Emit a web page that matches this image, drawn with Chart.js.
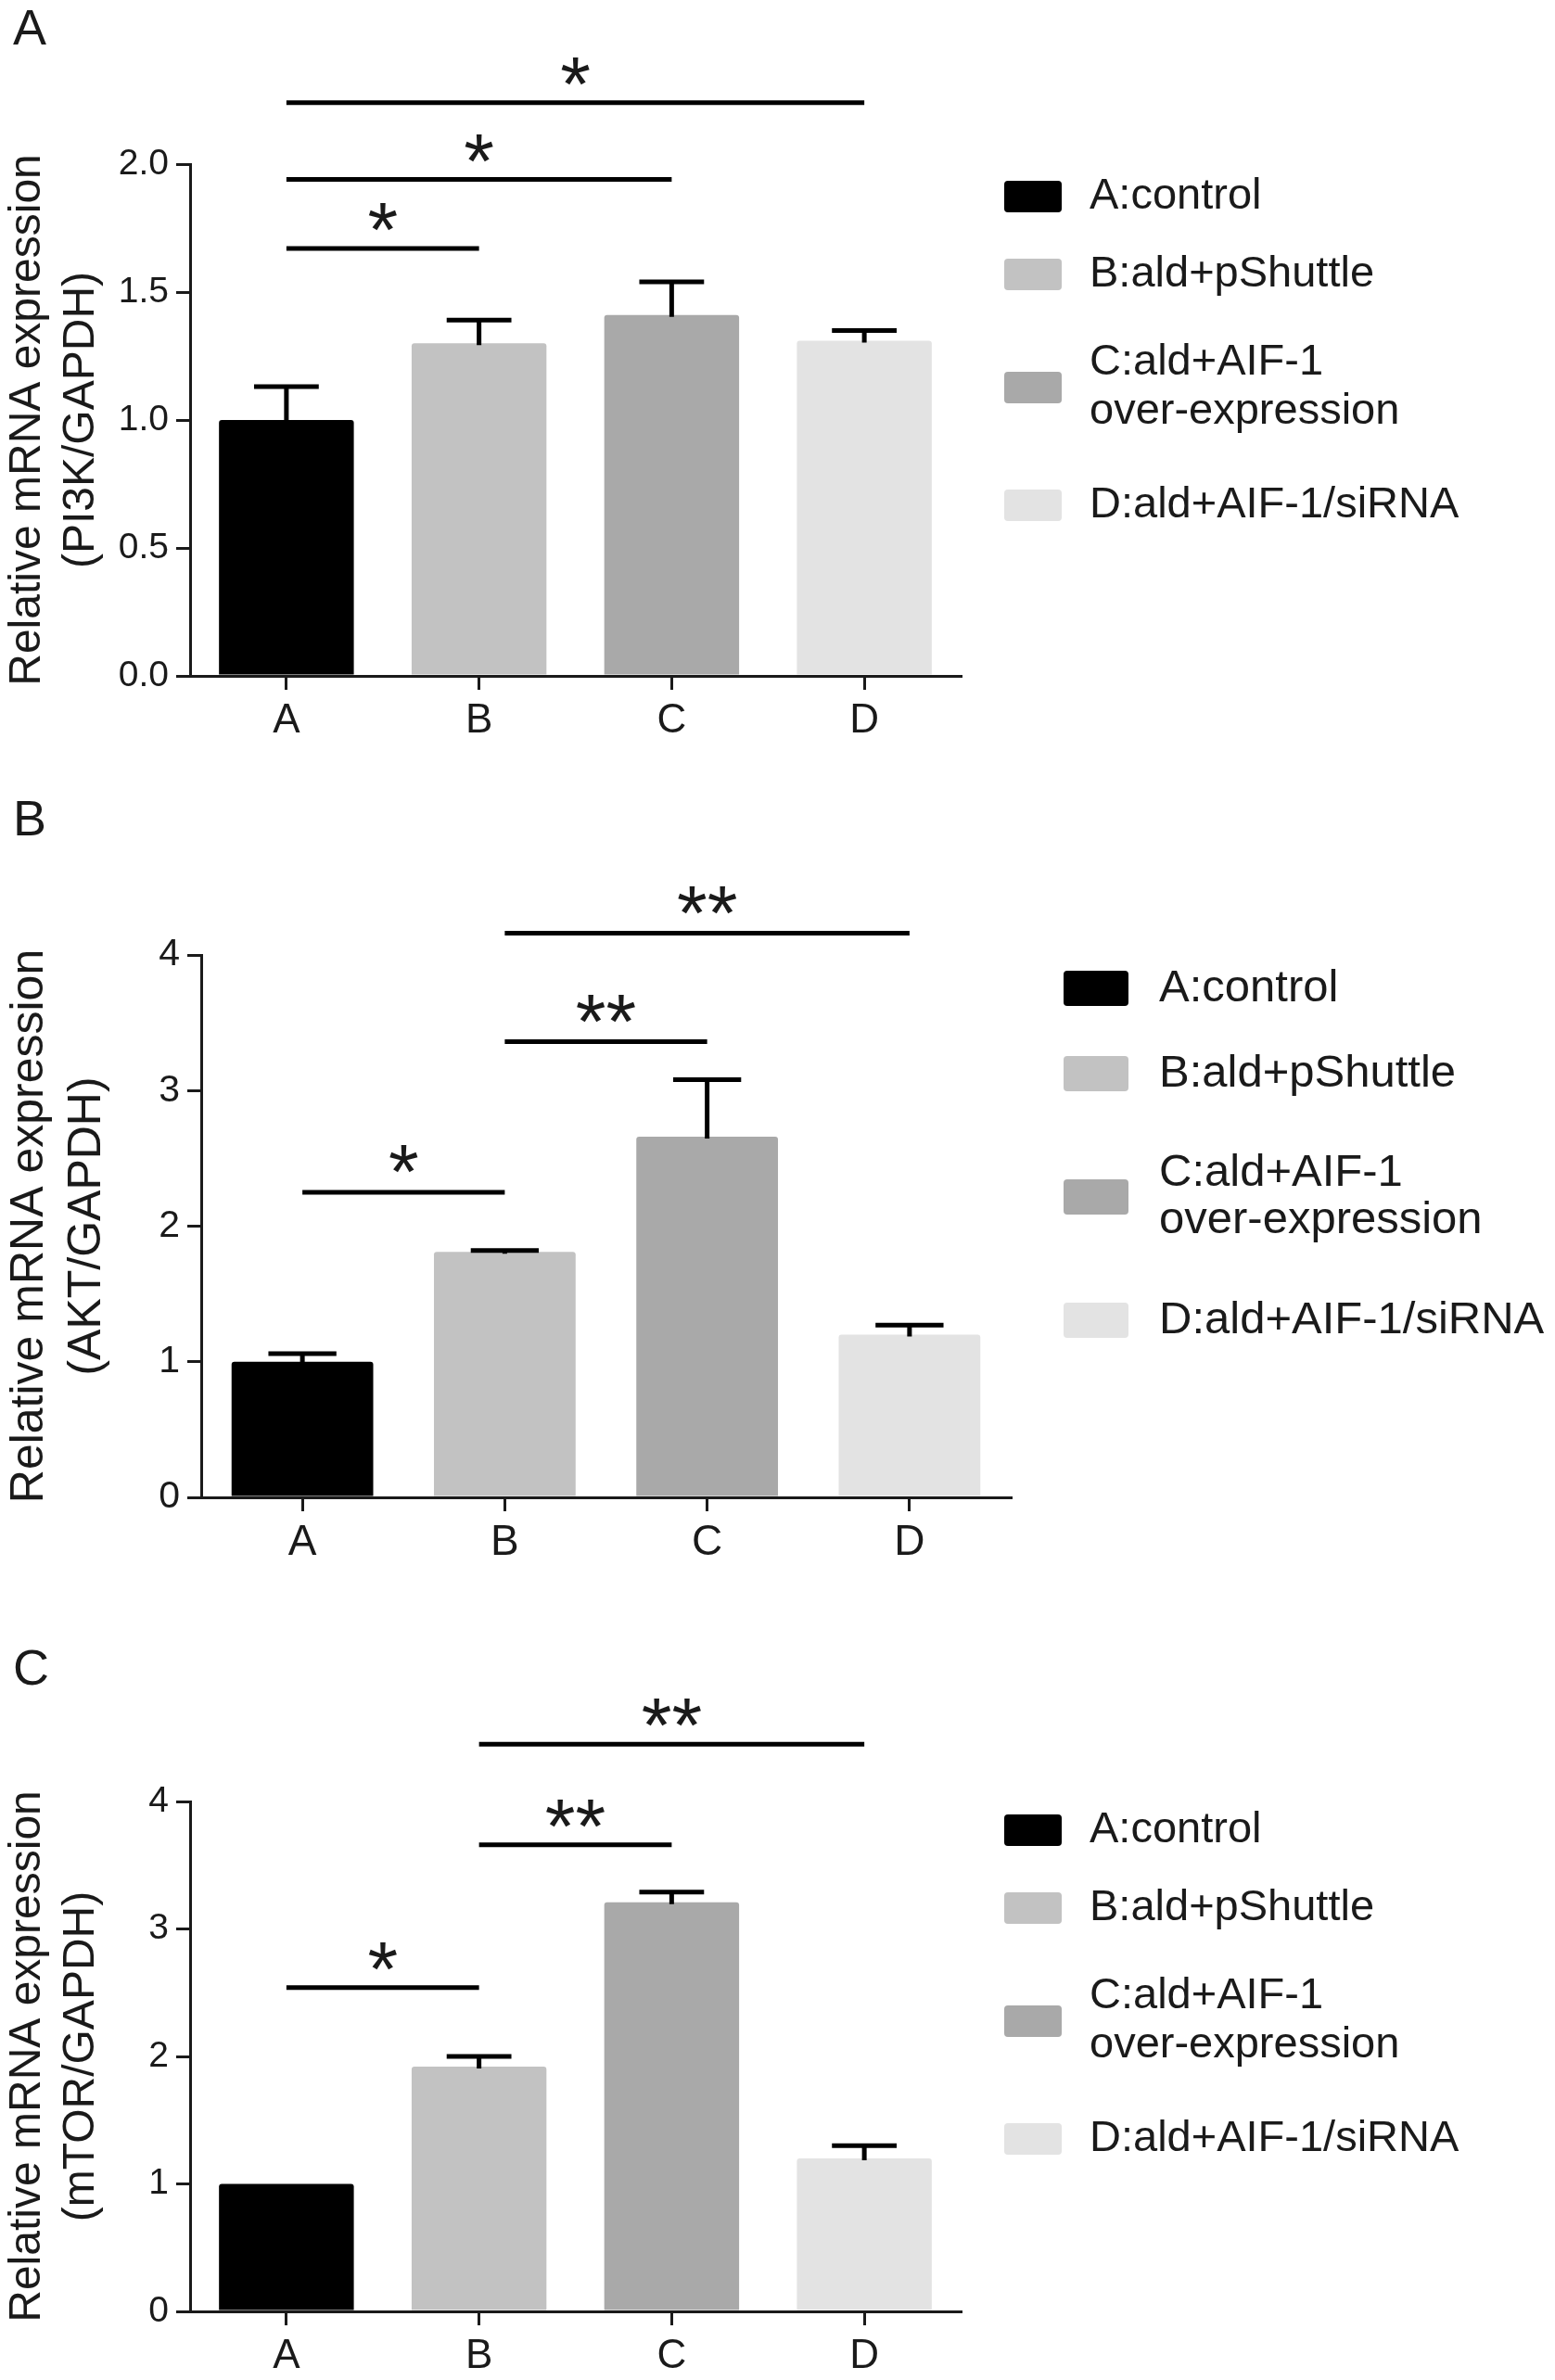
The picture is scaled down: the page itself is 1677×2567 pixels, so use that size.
<!DOCTYPE html>
<html>
<head>
<meta charset="utf-8">
<script src="https://cdn.jsdelivr.net/npm/chart.js@4.4.0/dist/chart.umd.min.js"></script>
<style>
    body { margin: 0; background: #fff; }
    .panel { position: absolute; left: 0; width: 1677px; }
</style>
</head>
<body>
<div class="panel" style="top:0;height:850px"><canvas id="chartA"></canvas></div>
<div class="panel" style="top:850px;height:850px"><canvas id="chartB"></canvas></div>
<div class="panel" style="top:1700px;height:867px"><canvas id="chartC"></canvas></div>
<script>
// groups and legend
const groups = ["A", "B", "C", "D"];
const legendLabels = [["A:control"], ["B:ald+pShuttle"], ["C:ald+AIF-1", "over-expression"], ["D:ald+AIF-1/siRNA"]];
const barColors = ["#000000", "#c2c2c2", "#a9a9a9", "#e3e3e3"];

// PI3K
const pi3kMean = [1.00, 1.30, 1.41, 1.31];
const pi3kSem = [0.13, 0.09, 0.13, 0.04];
const pi3kSig = [[0, 1, 1.67, "*"], [0, 2, 1.94, "*"], [0, 3, 2.24, "*"]];

// AKT
const aktMean = [1.00, 1.81, 2.66, 1.20];
const aktSem = [0.06, 0.01, 0.42, 0.07];
const aktSig = [[0, 1, 2.25, "*"], [1, 2, 3.36, "**"], [1, 3, 4.16, "**"]];

// mTOR
const mtorMean = [1.00, 1.92, 3.21, 1.20];
const mtorSem = [0.00, 0.08, 0.08, 0.10];
const mtorSig = [[0, 1, 2.54, "*"], [1, 2, 3.66, "**"], [1, 3, 4.45, "**"]];

const FONT = "'Liberation Sans', Arial, Helvetica, sans-serif";
const INK = "#1a1a1a";

const panels = [
    {
        id: "chartA", letter: "A", letterY: 33, height: 850,
        title: ["Relative mRNA expression", "(PI3K/GAPDH)"], titleFont: 48, titleLH: 58,
        mean: pi3kMean, sem: pi3kSem, sig: pi3kSig, max: 2, step: 0.5, decimals: 1,
        area: { left: 205, right: 1036, top: 177, bottom: 729 },
        tickFont: 39, xFont: 44, xPad: 7, starGap: 34,
        legend: { x: 1083, w: 62, h: 34, tx: 1175, rows: [212, 296, 418, 545], font: 47, lh: 53 }
    },
    {
        id: "chartB", letter: "B", letterY: 36, height: 850,
        title: ["Relative mRNA expression", "(AKT/GAPDH)"], titleFont: 50, titleLH: 62,
        mean: aktMean, sem: aktSem, sig: aktSig, max: 4, step: 1, decimals: 0,
        area: { left: 217, right: 1090, top: 180, bottom: 765 },
        tickFont: 41, xFont: 46, xPad: 7, starGap: 36,
        legend: { x: 1147, w: 70, h: 38, tx: 1250, rows: [216, 308, 441, 574], font: 49, lh: 51 }
    },
    {
        id: "chartC", letter: "C", letterY: 102, height: 867,
        title: ["Relative mRNA expression", "(mTOR/GAPDH)"], titleFont: 48, titleLH: 58,
        mean: mtorMean, sem: mtorSem, sig: mtorSig, max: 4, step: 1, decimals: 0,
        area: { left: 205, right: 1036, top: 243, bottom: 793 },
        tickFont: 39, xFont: 44, xPad: 7, starGap: 34,
        legend: { x: 1083, w: 62, h: 34, tx: 1175, rows: [274, 358, 480, 607], font: 47, lh: 53 }
    }
];

function roundRect(ctx, x, y, w, h, r) {
    ctx.beginPath();
    ctx.moveTo(x + r, y);
    ctx.lineTo(x + w - r, y);
    ctx.quadraticCurveTo(x + w, y, x + w, y + r);
    ctx.lineTo(x + w, y + h - r);
    ctx.quadraticCurveTo(x + w, y + h, x + w - r, y + h);
    ctx.lineTo(x + r, y + h);
    ctx.quadraticCurveTo(x, y + h, x, y + h - r);
    ctx.lineTo(x, y + r);
    ctx.quadraticCurveTo(x, y, x + r, y);
    ctx.closePath();
}

function makeChart(p) {
    const xH = 80;

    // upper error bars only
    const errorBars = {
        id: "errorBars",
        afterDatasetsDraw(chart) {
            const ctx = chart.ctx;
            const y = chart.scales.y;
            const meta = chart.getDatasetMeta(0);
            ctx.save();
            ctx.strokeStyle = "#000";
            ctx.lineWidth = 5;
            meta.data.forEach((bar, i) => {
                if (!p.sem[i]) return;
                const top = y.getPixelForValue(p.mean[i] + p.sem[i]);
                const half = bar.width * 0.24;
                ctx.beginPath();
                ctx.moveTo(bar.x, bar.y + 2);
                ctx.lineTo(bar.x, top);
                ctx.moveTo(bar.x - half, top);
                ctx.lineTo(bar.x + half, top);
                ctx.stroke();
            });
            ctx.restore();
        }
    };

    // significance lines, legend and panel letter
    const extras = {
        id: "extras",
        afterDraw(chart) {
            const ctx = chart.ctx;
            const x = chart.scales.x;
            const y = chart.scales.y;
            ctx.save();

            ctx.strokeStyle = "#000";
            ctx.fillStyle = INK;
            ctx.lineWidth = 5;
            ctx.font = "84px " + FONT;
            ctx.textAlign = "center";
            ctx.textBaseline = "alphabetic";
            p.sig.forEach(([a, b, h, label]) => {
                const x1 = x.getPixelForValue(a);
                const x2 = x.getPixelForValue(b);
                const yy = y.getPixelForValue(h);
                ctx.beginPath();
                ctx.moveTo(x1, yy);
                ctx.lineTo(x2, yy);
                ctx.stroke();
                const m = ctx.measureText(label);
                const center = yy - p.starGap;
                const base = center - (m.actualBoundingBoxDescent - m.actualBoundingBoxAscent) / 2;
                ctx.fillText(label, (x1 + x2) / 2, base);
            });

            const lg = p.legend;
            ctx.textAlign = "left";
            ctx.textBaseline = "middle";
            ctx.font = lg.font + "px " + FONT;
            legendLabels.forEach((lines, i) => {
                const cy = lg.rows[i];
                ctx.fillStyle = barColors[i];
                roundRect(ctx, lg.x, cy - lg.h / 2, lg.w, lg.h, 4);
                ctx.fill();
                ctx.fillStyle = INK;
                lines.forEach((t, j) => {
                    const ty = cy + (j - (lines.length - 1) / 2) * lg.lh;
                    ctx.fillText(t, lg.tx, ty);
                });
            });

            ctx.font = "54px " + FONT;
            ctx.fillStyle = INK;
            ctx.fillText(p.letter, 14, p.letterY);
            ctx.restore();
        }
    };

    return new Chart(document.getElementById(p.id), {
        type: "bar",
        data: {
            labels: groups,
            datasets: [{
                data: p.mean,
                backgroundColor: barColors,
                borderRadius: { topLeft: 3, topRight: 3 },
                borderSkipped: "bottom",
                barPercentage: 0.7,
                categoryPercentage: 1.0
            }]
        },
        options: {
            responsive: true,
            maintainAspectRatio: false,
            animation: false,
            layout: {
                padding: {
                    left: 0,
                    top: p.area.top,
                    right: 1677 - p.area.right,
                    bottom: p.height - p.area.bottom - xH
                }
            },
            plugins: {
                legend: { display: false },
                tooltip: { enabled: false }
            },
            scales: {
                x: {
                    afterFit: s => { s.height = xH; },
                    grid: { offset: false, drawOnChartArea: false, drawTicks: true, tickLength: 15, color: INK, lineWidth: 3 },
                    border: { color: INK, width: 3 },
                    ticks: { color: INK, padding: p.xPad, font: { family: FONT, size: p.xFont } }
                },
                y: {
                    min: 0,
                    max: p.max,
                    afterFit: s => { s.width = p.area.left; },
                    grid: { drawOnChartArea: false, drawTicks: true, tickLength: 15, color: INK, lineWidth: 3 },
                    border: { color: INK, width: 3 },
                    ticks: {
                        stepSize: p.step,
                        color: INK,
                        padding: 8,
                        font: { family: FONT, size: p.tickFont },
                        callback: v => v.toFixed(p.decimals)
                    },
                    title: {
                        display: true,
                        text: p.title,
                        color: INK,
                        padding: { top: 1, bottom: 0 },
                        font: { family: FONT, size: p.titleFont, lineHeight: p.titleLH / p.titleFont }
                    }
                }
            }
        },
        plugins: [errorBars, extras]
    });
}

panels.forEach(makeChart);
</script>
</body>
</html>
